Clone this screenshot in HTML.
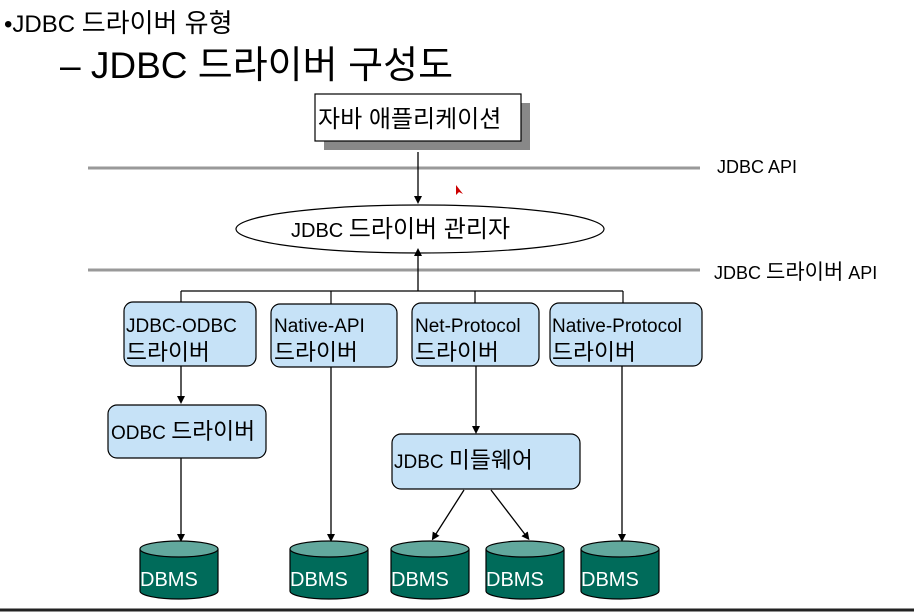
<!DOCTYPE html>
<html><head><meta charset="utf-8"><style>
body{margin:0;width:914px;height:612px;background:#fff;overflow:hidden}
svg{display:block}
text{font-family:"Liberation Sans","Noto Sans CJK KR",sans-serif}
.k{font-size:1.2em}
</style></head><body>
<svg width="914" height="612" viewBox="0 0 914 612">
<defs><marker id="a" markerWidth="8" markerHeight="8" refX="4" refY="4" orient="auto" markerUnits="userSpaceOnUse" viewBox="0 0 8 8"><path d="M0,0 L8,4 L0,8z" fill="#000"/></marker></defs>
<text x="4" y="32" font-size="24">•JDBC <tspan font-size="26">드라이버 유형</tspan></text>
<text x="60" y="78" font-size="37">– JDBC <tspan font-size="38">드라이버 구성도</tspan></text>
<rect x="324" y="103" width="206" height="47" fill="#888"/>
<rect x="315" y="94" width="206" height="47" fill="#fff" stroke="#000" stroke-width="1.2"/>
<text x="318" y="127" font-size="24">자바 애플리케이션</text>
<line x1="88" y1="168" x2="700" y2="168" stroke="#999" stroke-width="3"/>
<line x1="88" y1="270" x2="700" y2="270" stroke="#999" stroke-width="3"/>
<text x="717" y="173" font-size="18">JDBC API</text>
<text x="714" y="279" font-size="18">JDBC <tspan font-size="21">드라이버</tspan> API</text>
<line x1="418" y1="152" x2="418" y2="200" stroke="#000" stroke-width="1.3" marker-end="url(#a)"/>
<ellipse cx="420" cy="229" rx="184" ry="24" fill="#fff" stroke="#000" stroke-width="1.2"/>
<text x="291" y="237" font-size="20">JDBC <tspan class="k">드라이버 관리자</tspan></text>
<line x1="418" y1="291" x2="418" y2="252" stroke="#000" stroke-width="1.3" marker-end="url(#a)"/>
<g stroke="#000" stroke-width="1.2" fill="none">
<line x1="181" y1="291" x2="623" y2="291"/>
<line x1="181" y1="291" x2="181" y2="303"/><line x1="331" y1="291" x2="331" y2="304"/>
<line x1="475" y1="291" x2="475" y2="303"/><line x1="623" y1="291" x2="623" y2="303"/>
</g>
<g fill="#c6e2f7" stroke="#000" stroke-width="1.2">
<rect x="124" y="302" width="132" height="64" rx="9"/>
<rect x="271" y="304" width="126" height="63" rx="9"/>
<rect x="412" y="303" width="127" height="63" rx="9"/>
<rect x="550" y="303" width="152" height="63" rx="9"/>
<rect x="108" y="405" width="158" height="53" rx="9"/>
<rect x="392" y="434" width="188" height="55" rx="9"/>
</g>
<g font-size="19">
<text x="126" y="332">JDBC-ODBC</text><text x="126" y="360" class="k">드라이버</text>
<text x="274" y="332">Native-API</text><text x="274" y="360" class="k">드라이버</text>
<text x="415" y="332">Net-Protocol</text><text x="415" y="360" class="k">드라이버</text>
<text x="552" y="332">Native-Protocol</text><text x="552" y="360" class="k">드라이버</text>
<text x="111" y="439">ODBC <tspan class="k">드라이버</tspan></text>
<text x="394" y="468">JDBC <tspan class="k">미들웨어</tspan></text>
</g>
<g stroke="#000" stroke-width="1.3" marker-end="url(#a)">
<line x1="181" y1="366" x2="181" y2="400"/>
<line x1="181" y1="458" x2="181" y2="538"/>
<line x1="331" y1="367" x2="331" y2="538"/>
<line x1="476" y1="366" x2="476" y2="430"/>
<line x1="622" y1="366" x2="622" y2="538"/>
<line x1="464" y1="490" x2="434" y2="537"/>
<line x1="491" y1="490" x2="527" y2="537"/>
</g>
<g stroke="#000" stroke-width="1.2">
<g transform="translate(140,0)"><path d="M0,549 V591 A39,8 0 0 0 78,591 V549" fill="#006b5a"/><ellipse cx="39" cy="549" rx="39" ry="8" fill="#62a89d"/></g>
<g transform="translate(290,0)"><path d="M0,549 V591 A39,8 0 0 0 78,591 V549" fill="#006b5a"/><ellipse cx="39" cy="549" rx="39" ry="8" fill="#62a89d"/></g>
<g transform="translate(391,0)"><path d="M0,549 V591 A39,8 0 0 0 78,591 V549" fill="#006b5a"/><ellipse cx="39" cy="549" rx="39" ry="8" fill="#62a89d"/></g>
<g transform="translate(486,0)"><path d="M0,549 V591 A39,8 0 0 0 78,591 V549" fill="#006b5a"/><ellipse cx="39" cy="549" rx="39" ry="8" fill="#62a89d"/></g>
<g transform="translate(581,0)"><path d="M0,549 V591 A39,8 0 0 0 78,591 V549" fill="#006b5a"/><ellipse cx="39" cy="549" rx="39" ry="8" fill="#62a89d"/></g>
</g>
<g font-size="20" fill="#fff">
<text x="140" y="586">DBMS</text><text x="290" y="586">DBMS</text><text x="391" y="586">DBMS</text><text x="486" y="586">DBMS</text><text x="581" y="586">DBMS</text>
</g>
<path d="M456,185 l0,10 3,-3 4,2 z" fill="#c00"/>
<line x1="0" y1="610" x2="914" y2="610" stroke="#222" stroke-width="3"/>
</svg>
</body></html>
